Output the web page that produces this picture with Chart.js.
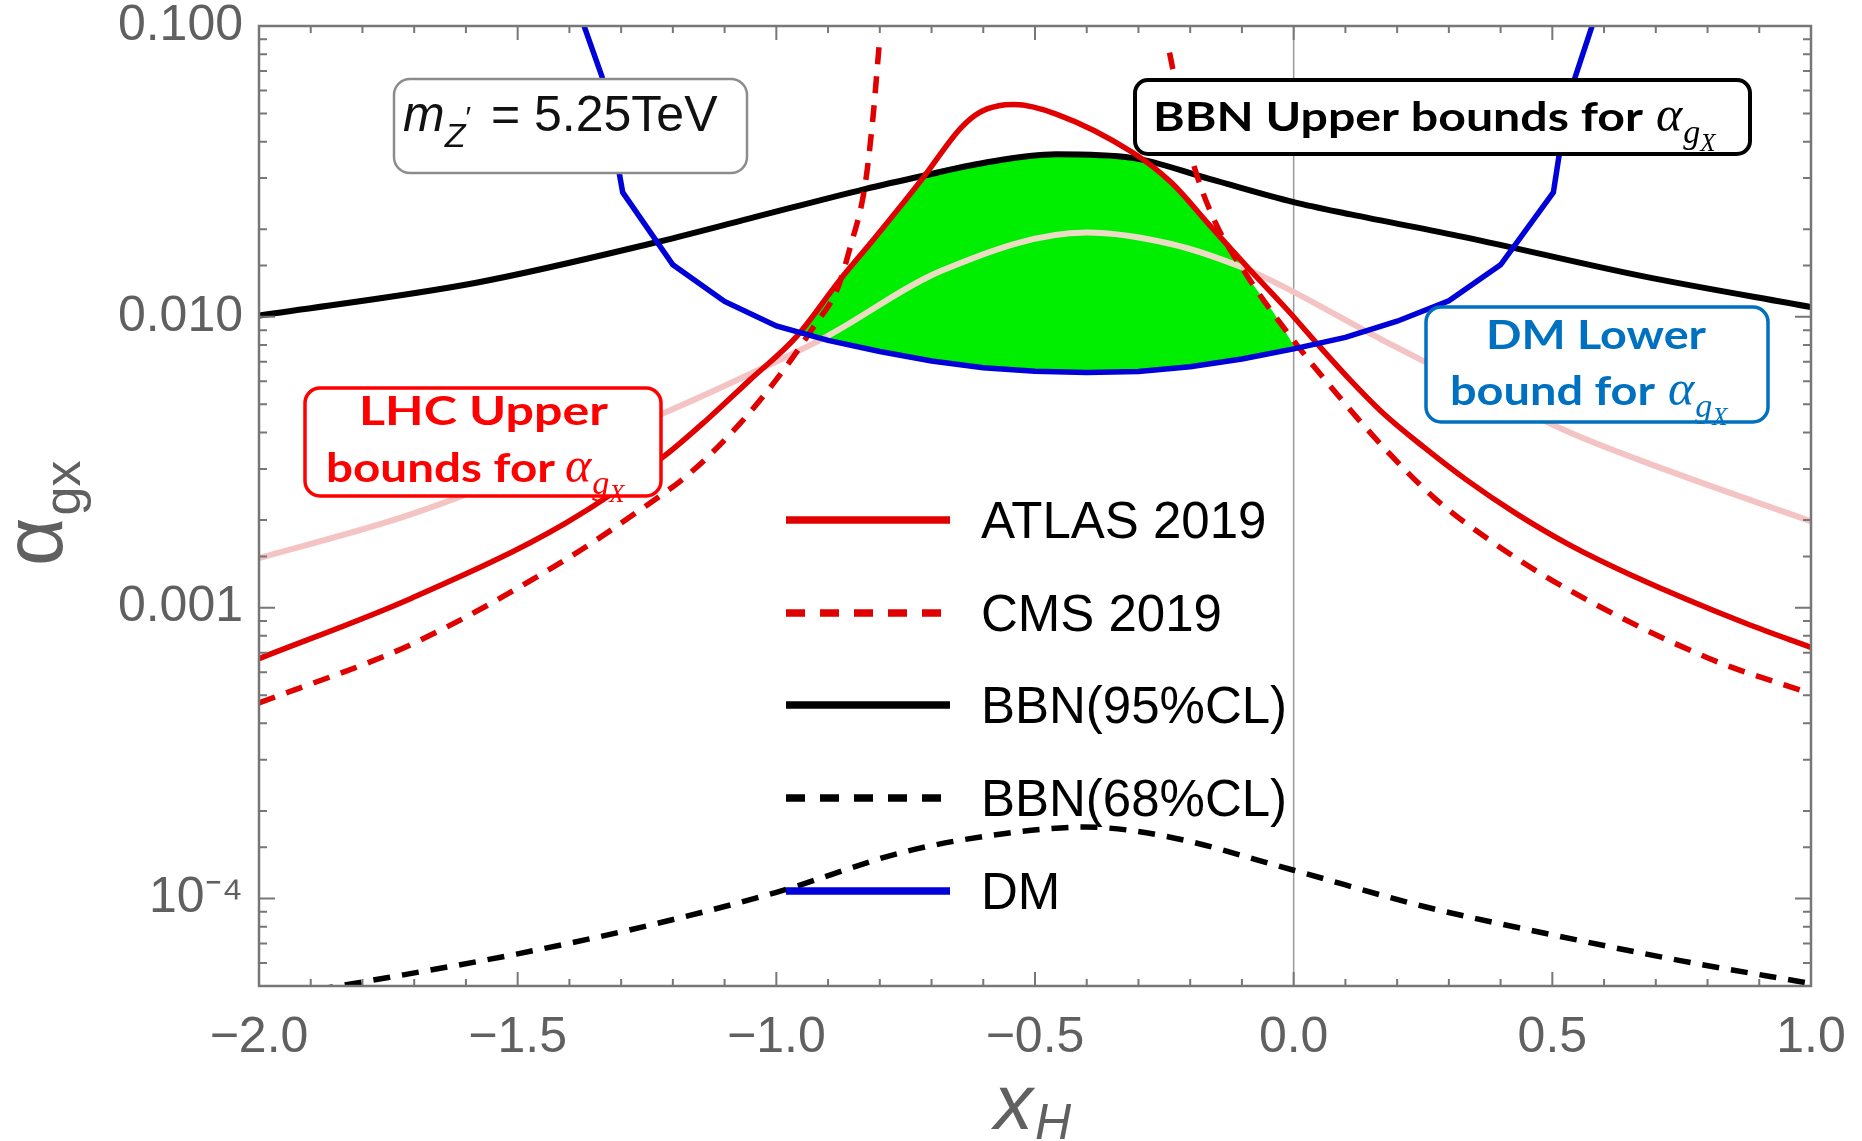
<!DOCTYPE html>
<html>
<head>
<meta charset="utf-8">
<script src="https://cdn.jsdelivr.net/npm/chart.js@4.4.1/dist/chart.umd.min.js"></script>
<style>
html, body { margin: 0; padding: 0; background: #fff; }
</style>
</head>
<body>
<canvas id="chart" width="1862" height="1141"></canvas>
<script>
// values: x_H on x, alpha_gX on a log y axis
const atlasX = [-2.0, -1.704, -1.408, -1.2185, -1.1346, -1.051, -0.961, -0.877, -0.8125, -0.718, -0.644, -0.607, -0.57, -0.54, -0.459, -0.312, -0.237, -0.163, -0.089, -0.015, 0.051, 0.109, 0.173, 0.251, 0.334, 0.431, 0.534, 0.654, 0.876, 1.0];
const atlasY = [6.68e-4, 1.08e-3, 1.95e-3, 3.3e-3, 4.42e-3, 6.07e-3, 8.55e-3, 0.0134, 0.0184, 0.0298, 0.0445, 0.0505, 0.0532, 0.0537, 0.0498, 0.0368, 0.029, 0.0207, 0.0148, 0.0107, 7.88e-3, 6.07e-3, 4.66e-3, 3.57e-3, 2.75e-3, 2.10e-3, 1.64e-3, 1.29e-3, 8.8e-4, 7.3e-4];

// CMS has a pole: null splits the two branches
const cmsX = [-2.0, -1.704, -1.408, -1.263, -1.167, -1.07, -0.986, -0.925, -0.883, -0.857, -0.829, -0.814, -0.8, -0.5, -0.24, -0.2, -0.156, -0.086, -0.0005, 0.077, 0.173, 0.27, 0.38, 0.521, 0.802, 1.0];
const cmsY = [4.7e-4, 7.5e-4, 1.46e-3, 2.17e-3, 2.9e-3, 4.3e-3, 6.56e-3, 9.4e-3, 0.01236, 0.0174, 0.028, 0.0469, 0.0913, null, 0.081, 0.0368, 0.022, 0.0135, 0.0083, 0.0056, 0.00357, 0.0024, 0.0017, 0.00118, 6.7e-4, 5.06e-4];

const bbn95X = [-2.0, -1.58, -1.24, -1.051, -0.829, -0.718, -0.6, -0.459, -0.312, -0.163, 0.0, 0.11, 0.33, 0.674, 1.0];
const bbn95Y = [0.0101, 0.0131, 0.0179, 0.0218, 0.0275, 0.0305, 0.0338, 0.0362, 0.0352, 0.0298, 0.0248, 0.0225, 0.0188, 0.0138, 0.0108];

const bbn68X = [-2.0, -1.75, -1.5, -1.25, -1.0, -0.75, -0.55, -0.405, -0.25, 0.0, 0.25, 0.5, 0.75, 1.0];
const bbn68Y = [4.5e-5, 5.35e-5, 6.45e-5, 8.05e-5, 1.05e-4, 1.45e-4, 1.68e-4, 1.76e-4, 1.64e-4, 1.25e-4, 9.4e-5, 7.5e-5, 6.1e-5, 5.1e-5];

// DM bound is drawn as a polyline, like the original sampled curve
const dmX = [-1.375, -1.337, -1.297, -1.2, -1.1, -1.0, -0.9, -0.8, -0.7, -0.6, -0.5, -0.4, -0.3, -0.2, -0.1, 0.0, 0.1, 0.2, 0.3, 0.4, 0.502, 0.514, 0.542, 0.58];
const dmY = [0.104, 0.067, 0.0268, 0.0151, 0.0113, 0.0093, 0.0083, 0.0076, 0.00705, 0.00668, 0.0065, 0.00643, 0.00649, 0.00673, 0.00716, 0.00776, 0.0085, 0.00966, 0.01135, 0.0151, 0.0268, 0.0368, 0.065, 0.104];

// faint curve (shown cream where it crosses the allowed region)
const faintX = [-2.0, -1.704, -1.2185, -1.0315, -0.903, -0.681, -0.4, -0.237, -0.1, -0.02, 0.173, 0.534, 0.728, 1.0];
const faintY = [1.48e-3, 2.1e-3, 4.66e-3, 6.6e-3, 8.55e-3, 0.0144, 0.0195, 0.0178, 0.0148, 0.0127, 8.3e-3, 4.0e-3, 2.94e-3, 1.98e-3];

// top edge of the allowed (green) region; its bottom edge is the DM line
const greenX = [-0.953, -0.9, -0.877, -0.8125, -0.75, -0.71, -0.6, -0.459, -0.35, -0.29, -0.237, -0.163, -0.12, -0.086, -0.04, 0.003];
const greenTop = [8.81e-3, 0.01186, 0.0134, 0.0184, 0.0253, 0.0305, 0.0338, 0.0362, 0.0356, 0.0343, 0.029, 0.0207, 0.0171, 0.0135, 0.0104, 0.0078];

const yTickLabels = {'-1': '0.100', '-2': '0.010', '-3': '0.001', '-4': '10\u207B\u2074'};

const RED = '#e00000';
const BLUE = '#0000d8';
const GRAY = '#777777';
const TEXT_GRAY = '#606060';
const SANS = '"Liberation Sans", Arial, sans-serif';
const SERIF = '"Liberation Serif", serif';

function pts(xs, ys) {
	return xs.map(function (x, i) { return {x: x, y: ys[i]}; });
}

function isDecade(v) {
	var l = Math.log10(v);
	return Math.abs(l - Math.round(l)) < 1e-6;
}

function drawRuns(ctx, runs, x, y) {
	runs.forEach(function (r) {
		ctx.font = r.font;
		ctx.fillText(r.text, x, y + (r.dy || 0));
		x += ctx.measureText(r.text).width + (r.gap || 0);
	});
	return x;
}

// squeeze/stretch a string to a given width (box labels are a narrow bold face)
function fitText(ctx, text, x, y, w) {
	var m = ctx.measureText(text).width;
	ctx.save();
	ctx.translate(x, y);
	ctx.scale(w / m, 1);
	ctx.fillText(text, 0, 0);
	ctx.restore();
}

function alphaRuns(size) {
	return [
		{text: '\u03B1', font: 'italic ' + size + 'px ' + SERIF, gap: 1},
		{text: 'g', font: 'italic ' + Math.round(size * 0.68) + 'px ' + SERIF, dy: Math.round(size * 0.24)},
		{text: 'X', font: 'italic ' + Math.round(size * 0.5) + 'px ' + SERIF, dy: Math.round(size * 0.4)}
	];
}

function box(ctx, x, y, w, h, r, color, lw) {
	ctx.save();
	ctx.beginPath();
	ctx.roundRect(x, y, w, h, r);
	ctx.fillStyle = '#fff';
	ctx.fill();
	ctx.lineWidth = lw;
	ctx.strokeStyle = color;
	ctx.stroke();
	ctx.restore();
}

var framePlugin = {
	id: 'frame',
	beforeDatasetsDraw: function (chart) {
		var ctx = chart.ctx, a = chart.chartArea;
		var px = chart.scales.x.getPixelForValue(0);
		ctx.save();
		ctx.strokeStyle = '#9a9a9a';
		ctx.lineWidth = 1.5;
		ctx.beginPath();
		ctx.moveTo(px, a.top);
		ctx.lineTo(px, a.bottom);
		ctx.stroke();
		ctx.restore();
	},
	afterDatasetsDraw: function (chart) {
		var ctx = chart.ctx, a = chart.chartArea;
		var xs = chart.scales.x, ys = chart.scales.y;
		ctx.save();
		ctx.strokeStyle = GRAY;
		ctx.lineWidth = 2.5;
		ctx.strokeRect(a.left, a.top, a.right - a.left, a.bottom - a.top);
		ctx.lineWidth = 2;
		ctx.beginPath();
		for (var i = 0; i <= 30; i++) {
			var px = xs.getPixelForValue(-2 + i * 0.1);
			var len = (i % 5 === 0) ? 14 : 7;
			ctx.moveTo(px, a.bottom); ctx.lineTo(px, a.bottom - len);
			ctx.moveTo(px, a.top); ctx.lineTo(px, a.top + len);
		}
		ys.ticks.forEach(function (t) {
			var py = ys.getPixelForValue(t.value);
			var len = isDecade(t.value) ? 16 : 8;
			ctx.moveTo(a.left, py); ctx.lineTo(a.left + len, py);
			ctx.moveTo(a.right, py); ctx.lineTo(a.right - len, py);
		});
		ctx.stroke();
		ctx.restore();

		// annotation boxes
		ctx.save();
		box(ctx, 394, 79, 353, 94, 16, '#8c8c8c', 2.5);
		ctx.fillStyle = '#111';
		var x = drawRuns(ctx, [
			{text: 'm', font: 'italic 50px ' + SANS},
			{text: 'Z', font: 'italic 34px ' + SANS, dy: 16},
			{text: '\u2032', font: '30px ' + SANS, dy: -4}
		], 403, 131);
		drawRuns(ctx, [{text: ' = 5.25TeV', font: '50px ' + SANS}], x + 6, 131);

		box(ctx, 1135, 80, 615, 74, 13, '#000', 4);
		ctx.fillStyle = '#000';
		ctx.font = 'bold 40px Lato, sans-serif';
		fitText(ctx, 'BBN Upper bounds for', 1153, 131, 490);
		drawRuns(ctx, alphaRuns(50), 1656, 131);

		box(ctx, 305, 388, 356, 108, 15, '#ff0000', 3.5);
		ctx.fillStyle = '#ff0000';
		ctx.font = 'bold 40px Lato, sans-serif';
		fitText(ctx, 'LHC Upper', 359, 425, 249);
		ctx.font = 'bold 40px Lato, sans-serif';
		fitText(ctx, 'bounds for', 326, 482, 229);
		drawRuns(ctx, alphaRuns(50), 565, 482);

		box(ctx, 1426, 307, 342, 115, 15, '#0070c0', 3.5);
		ctx.fillStyle = '#0070c0';
		ctx.font = 'bold 40px Lato, sans-serif';
		fitText(ctx, 'DM Lower', 1486, 349, 220);
		ctx.font = 'bold 40px Lato, sans-serif';
		fitText(ctx, 'bound for', 1450, 405, 205);
		drawRuns(ctx, alphaRuns(50), 1668, 405);
		ctx.restore();

		// legend, styled from the datasets themselves
		var rows = [520, 613, 705, 798, 891];
		ctx.save();
		chart.data.datasets.filter(function (d) { return d.inLegend; }).forEach(function (d, k) {
			var yy = rows[k];
			ctx.beginPath();
			ctx.strokeStyle = d.borderColor;
			ctx.lineWidth = 7.5;
			ctx.setLineDash(d.borderDash ? [19, 15] : []);
			ctx.moveTo(786, yy);
			ctx.lineTo(950, yy);
			ctx.stroke();
			ctx.setLineDash([]);
			ctx.fillStyle = '#000';
			ctx.font = '51px ' + SANS;
			ctx.fillText(d.label, 981, yy + 18);
		});
		ctx.restore();
	},
	afterDraw: function (chart) {
		var ctx = chart.ctx;
		ctx.save();
		ctx.fillStyle = TEXT_GRAY;
		drawRuns(ctx, [
			{text: 'x', font: 'italic 78px ' + SANS, gap: 2},
			{text: 'H', font: 'italic 50px ' + SANS, dy: 10}
		], 994, 1129);
		ctx.translate(62, 566);
		ctx.rotate(-Math.PI / 2);
		drawRuns(ctx, [
			{text: '\u03B1', font: '84px ' + SANS, gap: 2},
			{text: 'gx', font: '52px ' + SANS, dy: 18}
		], 0, 0);
		ctx.restore();
	}
};

var common = {pointRadius: 0, fill: false, cubicInterpolationMode: 'monotone'};

var datasets = [
	Object.assign({}, common, {label: 'ATLAS 2019', inLegend: true, data: pts(atlasX, atlasY), borderColor: RED, borderWidth: 5.5, order: 1}),
	Object.assign({}, common, {label: 'CMS 2019', inLegend: true, data: pts(cmsX, cmsY), borderColor: RED, borderWidth: 5.5, borderDash: [17, 12], spanGaps: false, order: 1}),
	Object.assign({}, common, {label: 'BBN(95%CL)', inLegend: true, data: pts(bbn95X, bbn95Y), borderColor: '#000', borderWidth: 6, order: 2}),
	Object.assign({}, common, {label: 'BBN(68%CL)', inLegend: true, data: pts(bbn68X, bbn68Y), borderColor: '#000', borderWidth: 5.5, borderDash: [17, 12], order: 2}),
	Object.assign({}, common, {label: 'DM', inLegend: true, data: pts(dmX, dmY), borderColor: BLUE, borderWidth: 5.5, cubicInterpolationMode: 'default', tension: 0, order: 0}),
	Object.assign({}, common, {label: 'faint', data: pts(faintX, faintY), borderColor: '#f4c4c4', borderWidth: 6, order: 5,
		segment: {
			borderColor: function (c) {
				return (c.p0.parsed.x >= -0.904 && c.p1.parsed.x <= -0.099) ? '#ecdcc6' : undefined;
			}
		}
	}),
	// fills down to the DM dataset (index 4)
	Object.assign({}, common, {label: 'allowed', data: pts(greenX, greenTop), borderWidth: 0, borderColor: 'rgba(0,0,0,0)', backgroundColor: '#00ee00', fill: 4, order: 10})
];

new Chart(document.getElementById('chart').getContext('2d'), {
	type: 'line',
	data: {datasets: datasets},
	options: {
		responsive: false,
		devicePixelRatio: 1,
		animation: false,
		events: [],
		layout: {padding: {left: 0, right: 51, top: 26, bottom: 0}},
		plugins: {legend: {display: false}, tooltip: {enabled: false}},
		scales: {
			x: {
				type: 'linear',
				min: -2,
				max: 1,
				grid: {display: false, drawTicks: false},
				border: {display: false},
				ticks: {
					stepSize: 0.5,
					padding: 22,
					color: TEXT_GRAY,
					font: {family: 'Liberation Sans', size: 50},
					callback: function (v) {
						return (v < -1e-9 ? '\u2212' : '') + Math.abs(v).toFixed(1);
					}
				},
				afterFit: function (s) { s.height = 155; s.paddingLeft = 0; s.paddingRight = 0; }
			},
			y: {
				type: 'logarithmic',
				min: 5e-5,
				max: 0.1,
				grid: {display: false, drawTicks: false},
				border: {display: false},
				ticks: {
					autoSkip: false,
					padding: 16,
					color: TEXT_GRAY,
					font: {family: 'Liberation Sans', size: 50},
					callback: function (v) {
						if (!isDecade(v)) return '';
						return yTickLabels[String(Math.round(Math.log10(v)))] || '';
					}
				},
				afterFit: function (s) { s.width = 259; s.paddingTop = 0; s.paddingBottom = 0; }
			}
		}
	},
	plugins: [framePlugin]
});
</script>
</body>
</html>
